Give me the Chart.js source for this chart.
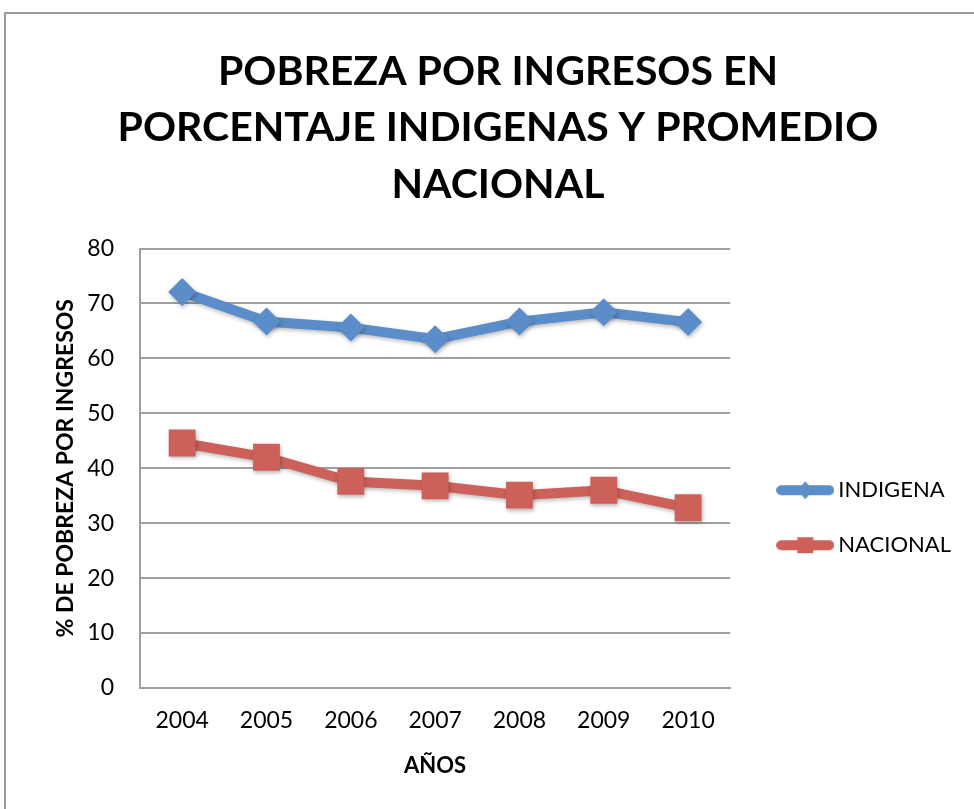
<!DOCTYPE html>
<html>
<head>
<meta charset="utf-8">
<title>Pobreza por ingresos</title>
<script src="https://cdn.jsdelivr.net/npm/chart.js@4.4.1/dist/chart.umd.min.js"></script>
<style>
    html, body { margin: 0; padding: 0; background: #fff; }
    #wrap { position: relative; width: 974px; height: 809px; }
</style>
</head>
<body>
<div id="wrap"><canvas id="povertyChart"></canvas></div>
<script>
const years = ['2004', '2005', '2006', '2007', '2008', '2009', '2010'];
const indigena = [72.1, 66.7, 65.6, 63.5, 66.7, 68.4, 66.6];
const nacional = [44.6, 42.0, 37.6, 36.8, 35.1, 36.0, 32.8];
const yTicks = [0, 10, 20, 30, 40, 50, 60, 70, 80];

const blue = '#5A8DC9';
const red = '#CD615A';
const gridGray = '#A0A0A0';

// little line + marker picture for the legend
function legendSwatch(color, marker) {
    const c = document.createElement('canvas');
    c.width = 58;
    c.height = 22;
    const g = c.getContext('2d');
    g.strokeStyle = color;
    g.fillStyle = color;
    g.lineWidth = 10;
    g.lineCap = 'round';
    g.beginPath();
    g.moveTo(5, 11);
    g.lineTo(53, 11);
    g.stroke();
    g.beginPath();
    if (marker === 'diamond') {
        g.moveTo(29, 2); g.lineTo(37, 11); g.lineTo(29, 20); g.lineTo(21, 11);
    } else {
        g.rect(21, 3, 16, 16);
    }
    g.closePath();
    g.fill();
    return c;
}

const frame = {
    id: 'frame',
    beforeDraw(chart) {
        const ctx = chart.ctx;
        ctx.save();
        ctx.fillStyle = '#fff';
        ctx.fillRect(0, 0, chart.width, chart.height);
        ctx.strokeStyle = '#9a9a9a';
        ctx.lineWidth = 2;
        ctx.strokeRect(5, 13, chart.width + 20, chart.height + 20);
        ctx.restore();
    }
};

const shadow = {
    id: 'shadow',
    beforeDatasetsDraw(chart) {
        const ctx = chart.ctx;
        ctx.save();
        ctx.shadowColor = 'rgba(0,0,0,0.28)';
        ctx.shadowBlur = 4;
        ctx.shadowOffsetX = 1;
        ctx.shadowOffsetY = 2;
    },
    afterDatasetsDraw(chart) {
        chart.ctx.restore();
    }
};

const ctx = document.getElementById('povertyChart').getContext('2d');

new Chart(ctx, {
    type: 'line',
    data: {
        labels: years,
        datasets: [{
            label: 'INDIGENA',
            data: indigena,
            borderColor: blue,
            backgroundColor: blue,
            borderWidth: 10,
            pointStyle: 'rectRot',
            pointRadius: 14,
            pointBorderWidth: 0,
            tension: 0
        }, {
            label: 'NACIONAL',
            data: nacional,
            borderColor: red,
            backgroundColor: red,
            borderWidth: 10,
            pointStyle: 'rect',
            pointRadius: 19,
            pointBorderWidth: 0,
            tension: 0
        }]
    },
    options: {
        responsive: true,
        maintainAspectRatio: false,
        animation: false,
        layout: { padding: { left: 35, right: 13, top: 16, bottom: 30 } },
        plugins: {
            title: {
                display: true,
                text: ['POBREZA POR INGRESOS EN', 'PORCENTAJE INDIGENAS Y PROMEDIO', 'NACIONAL'],
                color: '#000',
                font: { family: 'Lato', size: 41, weight: 'bold', lineHeight: 1.37 },
                padding: { top: 28, bottom: 36 }
            },
            legend: {
                position: 'right',
                maxWidth: 300,
                // blank title only pushes the entries down beside the plot
                title: { display: true, text: ' ', font: { size: 12 }, padding: { top: 226, bottom: 0 } },
                labels: {
                    usePointStyle: true,
                    pointStyleWidth: 44,
                    padding: 33,
                    color: '#000',
                    font: { family: 'Lato', size: 22 },
                    generateLabels(chart) {
                        return chart.data.datasets.map((ds, i) => ({
                            text: ds.label,
                            fontColor: '#000',
                            fillStyle: ds.borderColor,
                            strokeStyle: ds.borderColor,
                            lineWidth: 0,
                            pointStyle: legendSwatch(ds.borderColor, i === 0 ? 'diamond' : 'square'),
                            datasetIndex: i,
                            hidden: false
                        }));
                    }
                }
            },
            tooltip: { enabled: false }
        },
        scales: {
            x: {
                offset: true,
                grid: { display: false, drawTicks: false },
                border: { color: gridGray, width: 2 },
                ticks: { color: '#000', padding: 19, font: { family: 'Lato', size: 23 } },
                title: {
                    display: true,
                    text: 'AÑOS',
                    color: '#000',
                    font: { family: 'Lato', size: 22, weight: 'bold' },
                    padding: { top: 17, bottom: 0 }
                },
                afterFit(scale) { scale.height = 91; }
            },
            y: {
                min: 0,
                max: 80,
                afterBuildTicks(axis) {
                    axis.ticks = yTicks.map(v => ({ value: v }));
                },
                grid: { color: gridGray, lineWidth: 2, drawTicks: false },
                border: { color: gridGray, width: 2 },
                ticks: { color: '#000', padding: 26, font: { family: 'Lato', size: 23 } },
                title: {
                    display: true,
                    text: '% DE POBREZA POR INGRESOS',
                    color: '#000',
                    font: { family: 'Lato', size: 23, weight: 'bold' },
                    padding: { top: 17, bottom: 8 }
                },
                afterFit(scale) { scale.width = 105; }
            },
            // empty right-hand box: keeps the legend clear of the plot
            gap: {
                type: 'linear',
                position: 'right',
                grid: { display: false },
                border: { display: false },
                ticks: { display: false },
                afterFit(scale) { scale.width = 20; }
            }
        }
    },
    plugins: [frame, shadow]
});
</script>
</body>
</html>
